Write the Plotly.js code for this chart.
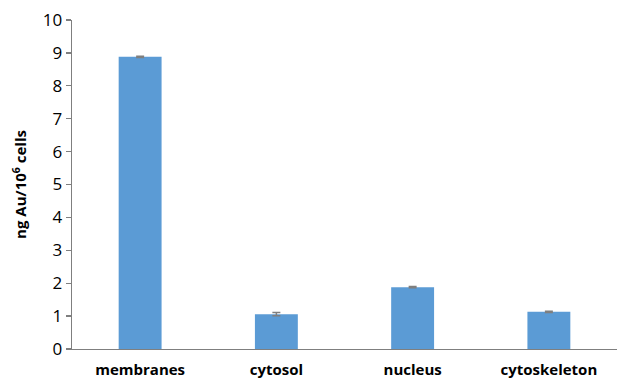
<!DOCTYPE html>
<html><head><meta charset="utf-8">
<script src="https://cdn.plot.ly/plotly-3.0.1.min.js"></script>
<style>html,body{margin:0;padding:0;background:#fff}#c{width:617px;height:380px}</style>
</head><body><div id="c"></div>
<script>
var categories = ["membranes", "cytosol", "nucleus", "cytoskeleton"];
var values = [8.88, 1.06, 1.88, 1.13];
var errors = [0.02, 0.05, 0.02, 0.02];
var yTicks = [0,1,2,3,4,5,6,7,8,9,10];

var trace = {
  type: "bar", x: categories, y: values,
  marker: {color: "#5B9BD5"},
  width: 0.315,
  error_y: {type: "data", array: errors, visible: true, color: "#7f7f7f", thickness: 1.5, width: 4}
};
var layout = {
  width: 617, height: 380,
  margin: {l: 72, r: 0, t: 20, b: 31},
  paper_bgcolor: "#fff", plot_bgcolor: "#fff",
  showlegend: false,
  font: {family: "Open Sans, Noto Sans, sans-serif", color: "#000"},
  xaxis: {
    showline: true, linecolor: "#7f7f7f", linewidth: 1.3,
    ticks: "", ticklabelstandoff: 7,
    tickfont: {size: 15, family: "Open Sans, sans-serif", weight: "bold"},
    showgrid: false, zeroline: false, fixedrange: true
  },
  yaxis: {
    range: [0, 10], tickvals: yTicks, ticktext: yTicks.map(String),
    showline: true, linecolor: "#7f7f7f", linewidth: 1.3,
    ticks: "outside", ticklen: 5, tickcolor: "#7f7f7f", tickwidth: 1.3,
    tickfont: {size: 17}, showgrid: false, zeroline: false,
    title: {text: "ng Au/10<sup>6</sup> cells", font: {size: 15, weight: "bold"}, standoff: 12}
  }
};
Plotly.newPlot("c", [trace], layout, {displayModeBar: false, staticPlot: true});
</script></body></html>
